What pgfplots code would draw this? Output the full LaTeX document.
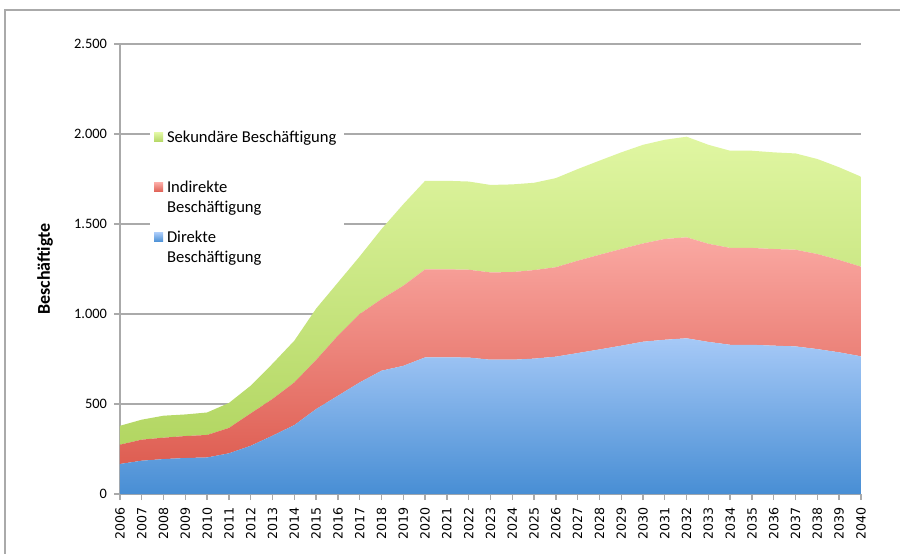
\documentclass[border=0pt]{standalone}
\usepackage{fontspec}
\setmainfont{Carlito}
\newfontfamily\tickfont{DejaVu Sans}
\usepackage{pgfplots}
\pgfplotsset{compat=1.18}
\usepackage{pgfplotstable}

\definecolor{blueB}{RGB}{72,142,212}
\definecolor{blueT}{RGB}{166,201,247}
\definecolor{redB}{RGB}{222,94,82}
\definecolor{redT}{RGB}{250,168,162}
\definecolor{greenB}{RGB}{178,214,98}
\definecolor{greenT}{RGB}{224,246,162}
\definecolor{gridgray}{RGB}{170,170,170}

\pgfplotstableread{
year dir ind sek
2006 167 107 105
2007 185 117 111
2008 194 119 122
2009 200 122 120
2010 203 125 125
2011 226 141 139
2012 268 180 154
2013 324 204 196
2014 383 237 232
2015 472 273 285
2016 546 334 295
2017 620 380 320
2018 685 398 389
2019 712 445 453
2020 759 489 492
2021 759 489 492
2022 758 488 490
2023 746 485 486
2024 746 487 487
2025 752 492 485
2026 763 497 495
2027 783 513 509
2028 803 526 523
2029 824 537 537
2030 846 546 548
2031 857 560 551
2032 865 561 559
2033 845 545 550
2034 829 538 540
2035 829 538 540
2036 824 537 537
2037 820 537 535
2038 805 528 528
2039 787 513 515
2040 765 498 500
}\jobs

\begin{document}
\begin{tikzpicture}
\useasboundingbox (-60pt,-29.5pt) rectangle (390pt,247pt);
\draw[gridgray, line width=0.6pt] (-57.5pt,-40pt) -- (-57.5pt,242pt) -- (400pt,242pt);
\begin{axis}[
  scale only axis,
  width=370.5pt, height=225pt,
  xmin=2006, xmax=2040,
  ymin=0, ymax=2500,
  enlargelimits=false,
  stack plots=y,
  axis x line*=bottom,
  axis y line*=left,
  axis line style={gridgray, line width=0.7pt},
  tick style={gridgray, line width=0.7pt},
  tick align=outside,
  major tick length=3pt,
  xtick={2006,2007,...,2040},
  ytick={0,500,...,2500},
  yticklabels={0,500,1.000,1.500,2.000,2.500},
  ymajorgrids,
  grid style={gridgray, line width=0.7pt},
  /pgf/number format/assume math mode=true,
  x tick label style={rotate=90, anchor=east, font=\tickfont\fontsize{6.3}{7}\selectfont,
    /pgf/number format/1000 sep={}},
  y tick label style={font=\fontsize{7.2}{9}\selectfont},
  ylabel={Beschäftigte},
  ylabel style={font=\fontsize{9}{10}\selectfont\bfseries, at={(axis description cs:-0.101,0.5)}, anchor=center},
  legend style={at={(rel axis cs:0.04,0.83)}, anchor=north west, draw=none, fill=white,
    font=\fontsize{8.3}{10}\selectfont, row sep=12.5pt, inner sep=2pt,
    cells={anchor=base west}},
  legend image code/.code={\path[#1] (0pt,0.5pt) rectangle (4.5pt,5pt);},
  legend reversed,
]
\addplot[draw=none, top color=blueT, bottom color=blueB] table[x=year, y=dir] {\jobs} \closedcycle;
\addlegendentry{\begin{tabular}[t]{@{}l@{}}Direkte\\Beschäftigung\end{tabular}}
\addplot[draw=none, top color=redT, bottom color=redB] table[x=year, y=ind] {\jobs} \closedcycle;
\addlegendentry{\begin{tabular}[t]{@{}l@{}}Indirekte\\Beschäftigung\end{tabular}}
\addplot[draw=none, top color=greenT, bottom color=greenB] table[x=year, y=sek] {\jobs} \closedcycle;
\addlegendentry{\begin{tabular}[t]{@{}l@{}}Sekundäre Beschäftigung\\\mbox{}\end{tabular}}
\end{axis}
\end{tikzpicture}
\end{document}
